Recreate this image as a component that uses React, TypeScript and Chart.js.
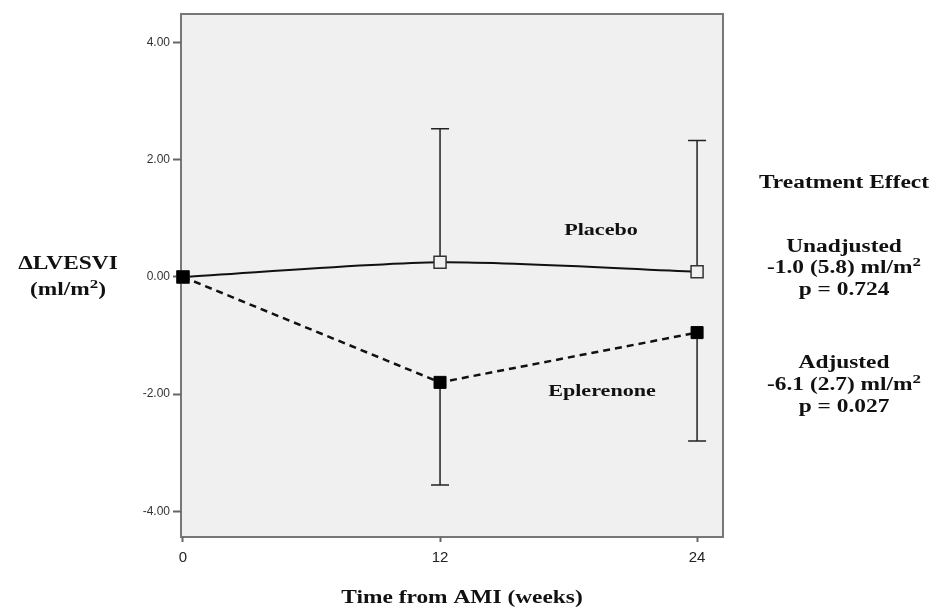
import React, { useEffect, useRef } from "react";
import { Chart, registerables } from "chart.js";

Chart.register(...registerables);

const weeks = [0, 12, 24];
const placeboMean = [0, 0.25, 0.09];
const placeboUpper: (number | null)[] = [null, 2.53, 2.33];
const eplerenoneMean = [0, -1.8, -0.95];
const eplerenoneLower: (number | null)[] = [null, -3.55, -2.8];
const yTicks = [-4, -2, 0, 2, 4];
const xTicks = [0, 12, 24];
const seriesLabels = ["Placebo", "Eplerenone"];
const yTitle = ["ΔLVESVI", "(ml/m^2)"];
const xTitle = "Time from AMI (weeks)";
const effectLines = [
  "Treatment Effect",
  "",
  "Unadjusted",
  "-1.0 (5.8) ml/m^2",
  "p = 0.724",
  "",
  "Adjusted",
  "-6.1 (2.7) ml/m^2",
  "p = 0.027",
];

const SX = 1.3;
const SERIF = '"Liberation Serif", "Times New Roman", serif';

// "^2" marks a superscript 2
function drawText(ctx: CanvasRenderingContext2D, text: string, cx: number, cy: number, size: number) {
  ctx.save();
  ctx.translate(cx, cy);
  ctx.scale(SX, 1);
  ctx.textBaseline = "middle";
  ctx.textAlign = "left";
  ctx.fillStyle = "#111";
  const parts = text.split("^");
  const segs: { t: string; sup: boolean }[] = [];
  parts.forEach((p, i) => {
    if (i === 0) segs.push({ t: p, sup: false });
    else {
      segs.push({ t: p.charAt(0), sup: true });
      if (p.length > 1) segs.push({ t: p.slice(1), sup: false });
    }
  });
  const fontN = `bold ${size}px ${SERIF}`;
  const fontS = `bold ${Math.round(size * 0.7)}px ${SERIF}`;
  let total = 0;
  const widths = segs.map((s) => {
    ctx.font = s.sup ? fontS : fontN;
    const w = ctx.measureText(s.t).width;
    total += w;
    return w;
  });
  let x = -total / 2;
  segs.forEach((s, i) => {
    ctx.font = s.sup ? fontS : fontN;
    ctx.fillText(s.t, x, s.sup ? -size * 0.3 : 0);
    x += widths[i];
  });
  ctx.restore();
}

const bgPlugin = {
  id: "bgPlugin",
  beforeDraw(chart: any) {
    const { ctx, chartArea: a } = chart;
    ctx.save();
    ctx.fillStyle = "#ffffff";
    ctx.fillRect(0, 0, chart.width, chart.height);
    ctx.fillStyle = "#f0f0f0";
    ctx.fillRect(a.left, a.top, a.right - a.left, a.bottom - a.top);
    ctx.strokeStyle = "#777";
    ctx.lineWidth = 2;
    ctx.strokeRect(a.left, a.top, a.right - a.left, a.bottom - a.top);
    ctx.restore();
  },
  beforeDatasetsDraw(chart: any) {
    const { ctx } = chart;
    const xs = chart.scales.x;
    const ys = chart.scales.y;
    ctx.save();
    ctx.strokeStyle = "#222";
    ctx.lineWidth = 1.5;
    const bars = (mean: number[], ends: (number | null)[]) => {
      weeks.forEach((w, i) => {
        const e = ends[i];
        if (e === null || e === undefined) return;
        const x = xs.getPixelForValue(w);
        const y0 = ys.getPixelForValue(mean[i]);
        const y1 = ys.getPixelForValue(e);
        ctx.beginPath();
        ctx.moveTo(x, y0);
        ctx.lineTo(x, y1);
        ctx.moveTo(x - 9, y1);
        ctx.lineTo(x + 9, y1);
        ctx.stroke();
      });
    };
    bars(placeboMean, placeboUpper);
    bars(eplerenoneMean, eplerenoneLower);
    ctx.restore();
  },
  afterDraw(chart: any) {
    const { ctx } = chart;
    drawText(ctx, seriesLabels[0], 601, 231, 17);
    drawText(ctx, seriesLabels[1], 602, 392, 17);
    drawText(ctx, yTitle[0], 68, 264, 18);
    drawText(ctx, yTitle[1], 68, 290, 18);
    drawText(ctx, xTitle, 462, 598, 18);
    const ys = [183, 0, 247, 268, 290, 0, 363, 385, 407];
    effectLines.forEach((t, i) => {
      if (t) drawText(ctx, t, 844, ys[i], 18);
    });
  },
};

export default function App() {
  const ref = useRef<HTMLCanvasElement | null>(null);
  useEffect(() => {
    document.body.style.margin = "0";
    if (!ref.current) return;
    const chart = new Chart(ref.current, {
      type: "line",
      data: {
        datasets: [
          {
            label: seriesLabels[1],
            data: weeks.map((w, i) => ({ x: w, y: eplerenoneMean[i] })),
            borderColor: "#111",
            borderWidth: 2.5,
            borderDash: [7, 5],
            tension: 0,
            clip: false,
            pointStyle: "rect",
            pointRadius: 8.5,
            pointBackgroundColor: "#000",
            pointBorderColor: "#000",
            pointBorderWidth: 1,
          },
          {
            label: seriesLabels[0],
            data: weeks.map((w, i) => ({ x: w, y: placeboMean[i] })),
            borderColor: "#111",
            borderWidth: 2,
            tension: 0.25,
            clip: false,
            pointStyle: "rect",
            pointRadius: 8.5,
            pointBackgroundColor: "#f0f0f0",
            pointBorderColor: "#333",
            pointBorderWidth: 1.5,
          },
        ],
      },
      options: {
        animation: false,
        responsive: false,
        layout: { padding: { left: 0, top: 14, right: 221, bottom: 0 } },
        plugins: { legend: { display: false }, tooltip: { enabled: false } },
        scales: {
          x: {
            type: "linear",
            min: -0.093,
            max: 25.21,
            afterBuildTicks: (s: any) => {
              s.ticks = xTicks.map((v) => ({ value: v }));
            },
            afterFit: (s: any) => {
              s.height = 76;
            },
            border: { display: false },
            grid: { drawOnChartArea: false, drawTicks: true, tickLength: 5, tickColor: "#666", tickWidth: 2 },
            ticks: {
              padding: 7,
              color: "#222",
              font: { family: '"Liberation Sans", Arial, sans-serif', size: 15 },
              callback: (v: any) => String(v),
              maxRotation: 0,
            },
          },
          y: {
            type: "linear",
            min: -4.44,
            max: 4.49,
            afterBuildTicks: (s: any) => {
              s.ticks = yTicks.map((v) => ({ value: v }));
            },
            afterFit: (s: any) => {
              s.width = 181;
            },
            border: { display: false },
            grid: { drawOnChartArea: false, drawTicks: true, tickLength: 8, tickColor: "#666", tickWidth: 2 },
            ticks: {
              padding: 3,
              color: "#333",
              font: { family: '"Liberation Sans", Arial, sans-serif', size: 12 },
              callback: (v: any) => Number(v).toFixed(2),
            },
          },
        },
      },
      plugins: [bgPlugin],
    } as any);
    return () => chart.destroy();
  }, []);
  return <canvas ref={ref} width={944} height={613} style={{ display: "block" }} />;
}
